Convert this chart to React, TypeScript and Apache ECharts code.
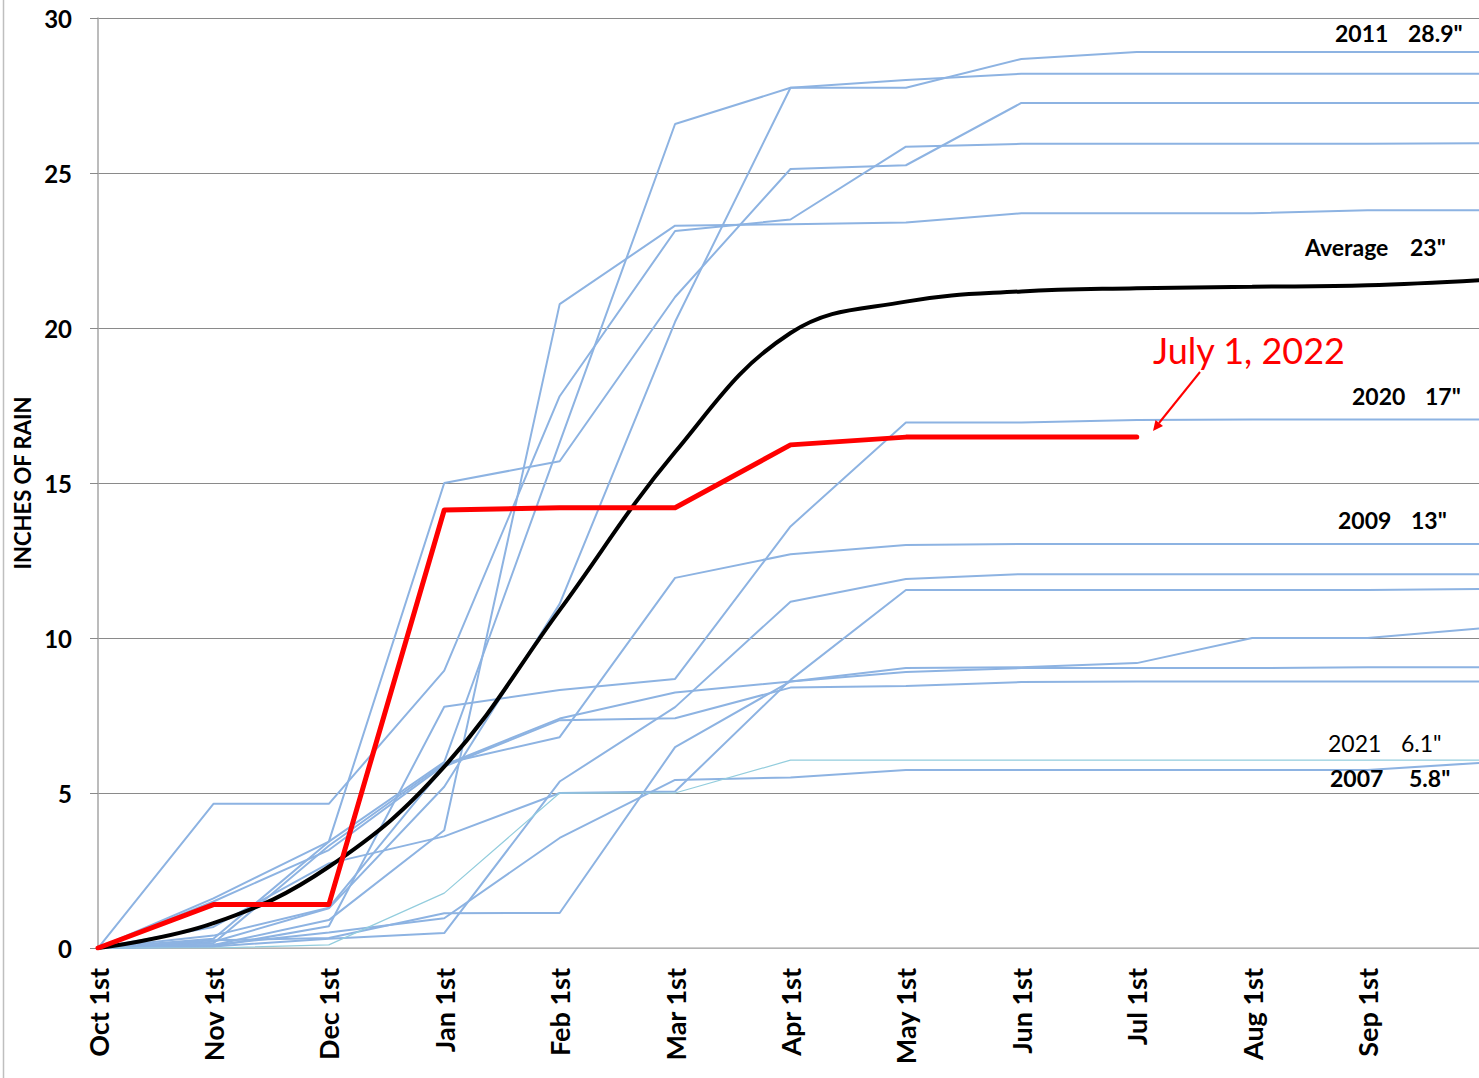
import React, { useEffect, useRef } from "react";
import * as echarts from "echarts";

const categories = [
  "Oct 1st", "Nov 1st", "Dec 1st", "Jan 1st", "Feb 1st", "Mar 1st",
  "Apr 1st", "May 1st", "Jun 1st", "Jul 1st", "Aug 1st", "Sep 1st", "",
];
const yTicks = [0, 5, 10, 15, 20, 25, 30];

// Past seasons (cumulative inches)
const y2011 = [0, 0.2, 1.28, 5.2, 11.1, 20.2, 27.75, 27.75, 28.68, 28.9, 28.9, 28.9, 28.9];
const yrA = [0, 0.3, 3.43, 6.0, 16.3, 26.58, 27.75, 28.0, 28.2, 28.2, 28.2, 28.2, 28.2];
const yrB = [0, 1.6, 3.43, 15.0, 15.7, 21.0, 25.13, 25.25, 27.26, 27.26, 27.26, 27.26, 27.26];
const yrC = [0, 4.65, 4.65, 8.95, 17.8, 23.13, 23.5, 25.85, 25.94, 25.94, 25.94, 25.94, 25.96];
const yrD = [0, 0.1, 0.9, 3.8, 20.77, 23.3, 23.35, 23.4, 23.7, 23.7, 23.7, 23.8, 23.8];
const y2020 = [0, 0.05, 0.7, 7.78, 8.32, 8.68, 13.6, 16.95, 16.95, 17.03, 17.05, 17.05, 17.05];
const y2009 = [0, 0.15, 3.3, 5.95, 6.8, 11.94, 12.7, 13.0, 13.03, 13.03, 13.03, 13.03, 13.03];
const yrE = [0, 0.05, 0.3, 0.48, 5.37, 7.77, 11.17, 11.9, 12.06, 12.06, 12.06, 12.06, 12.06];
const yrF = [0, 0.68, 2.73, 3.6, 5.0, 5.05, 8.65, 11.55, 11.55, 11.55, 11.55, 11.55, 11.58];
const yrG = [0, 0.25, 0.32, 1.12, 1.13, 6.48, 8.6, 9.03, 9.06, 9.19, 10.0, 10.0, 10.32];
const yrH = [0, 1.5, 3.16, 5.9, 7.4, 8.24, 8.6, 8.9, 9.03, 9.03, 9.03, 9.06, 9.06];
const yrI = [0, 0.4, 1.3, 5.85, 7.35, 7.41, 8.4, 8.45, 8.58, 8.6, 8.6, 8.6, 8.6];
const y2007 = [0, 0.1, 0.5, 0.96, 3.55, 5.42, 5.5, 5.74, 5.74, 5.74, 5.74, 5.74, 5.98];
const y2021 = [0, 0.0, 0.1, 1.77, 5.0, 5.0, 6.06, 6.06, 6.06, 6.06, 6.06, 6.06, 6.06];

const average = [0, 0.8, 2.62, 5.85, 10.9, 16.0, 19.84, 20.85, 21.18, 21.28, 21.33, 21.38, 21.55];
const y2022 = [0, 1.4, 1.4, 14.13, 14.2, 14.2, 16.23, 16.48, 16.48, 16.48, null, null, null];

const blueSeries = [
  ["2011", y2011], ["A", yrA], ["B", yrB], ["C", yrC], ["D", yrD],
  ["2020", y2020], ["2009", y2009], ["E", yrE], ["F", yrF], ["G", yrG],
  ["H", yrH], ["I", yrI], ["2007", y2007],
] as [string, number[]][];

const FONT = "Lato, 'Open Sans', sans-serif";

export default function App() {
  const ref = useRef<HTMLDivElement>(null);

  useEffect(() => {
    if (!ref.current) return;
    const chart = echarts.init(ref.current, undefined, { renderer: "svg" });

    const series: any[] = blueSeries.map(([name, data]) => ({
      name,
      type: "line",
      data,
      symbol: "none",
      lineStyle: { color: "#8db3e2", width: 2 },
      emphasis: { disabled: true },
      z: 2,
    }));
    series.push({
      name: "2021",
      type: "line",
      data: y2021,
      symbol: "none",
      lineStyle: { color: "#93cddd", width: 1.2 },
      emphasis: { disabled: true },
      z: 3,
    });
    series.push({
      name: "Average",
      type: "line",
      data: average,
      symbol: "none",
      smooth: 0.4,
      lineStyle: { color: "#000000", width: 4 },
      emphasis: { disabled: true },
      z: 4,
    });
    series.push({
      name: "2022",
      type: "line",
      data: y2022,
      symbol: "none",
      lineStyle: { color: "#ff0000", width: 5, cap: "round", join: "round" },
      emphasis: { disabled: true },
      z: 5,
    });

    const label = (left: number, y: number, text: string, weight: string = "bold", size = 23, color = "#000") => ({
      type: "text",
      x: left,
      y,
      style: {
        text,
        fill: color,
        font: `${weight} ${size}px ${FONT}`,
        textVerticalAlign: "middle",
        textAlign: "left",
      },
      z: 10,
    });

    chart.setOption({
      animation: false,
      grid: { left: 98, right: 0, top: 18, bottom: 130 },
      xAxis: {
        type: "category",
        data: categories,
        boundaryGap: false,
        axisLine: { show: true, lineStyle: { color: "#bfbfbf", width: 1.5 } },
        axisTick: { show: false },
        axisLabel: {
          rotate: 90,
          margin: 20,
          interval: 0,
          color: "#000",
          fontWeight: "bold",
          fontSize: 27,
          fontFamily: FONT,
        },
        splitLine: { show: false },
      },
      yAxis: {
        type: "value",
        min: yTicks[0],
        max: yTicks[yTicks.length - 1],
        interval: 5,
        name: "INCHES OF RAIN",
        nameLocation: "middle",
        nameRotate: 90,
        nameGap: 63,
        nameTextStyle: { color: "#000", fontWeight: "bold", fontSize: 22, fontFamily: FONT },
        axisLine: { show: true, lineStyle: { color: "#a6a6a6", width: 1.5 } },
        axisTick: { show: true, length: 8, lineStyle: { color: "#8a8a8a" } },
        axisLabel: {
          margin: 26,
          color: "#000",
          fontWeight: "bold",
          fontSize: 24,
          fontFamily: FONT,
        },
        splitLine: { show: true, lineStyle: { color: "#8a8a8a", width: 1 } },
      },
      series,
      graphic: [
        { type: "line", shape: { x1: 3.5, y1: 0, x2: 3.5, y2: 1078 }, style: { stroke: "#bfbfbf", lineWidth: 1.5 } },
        label(1335, 33, "2011"),
        label(1408, 33, "28.9\""),
        label(1305, 247, "Average"),
        label(1410, 247, "23\""),
        label(1352, 396, "2020"),
        label(1425, 396, "17\""),
        label(1338, 520, "2009"),
        label(1411, 520, "13\""),
        label(1328, 743, "2021", "normal"),
        label(1401, 743, "6.1\"", "normal"),
        label(1330, 778, "2007"),
        label(1409, 778, "5.8\""),
        label(1153, 350, "July 1, 2022", "normal", 36, "#ff0000"),
        {
          type: "line",
          shape: { x1: 1200, y1: 372, x2: 1159, y2: 423 },
          style: { stroke: "#ff0000", lineWidth: 2 },
          z: 10,
        },
        {
          type: "polygon",
          shape: { points: [[1153, 431], [1163, 426], [1155.5, 420]] },
          style: { fill: "#ff0000" },
          z: 10,
        },
      ],
    });

    return () => chart.dispose();
  }, []);

  return (
    <div style={{ position: "absolute", left: 0, top: 0, width: 1479, height: 1078, overflow: "hidden", background: "#fff" }}>
      <div ref={ref} style={{ width: 1483, height: 1078 }} />
    </div>
  );
}
